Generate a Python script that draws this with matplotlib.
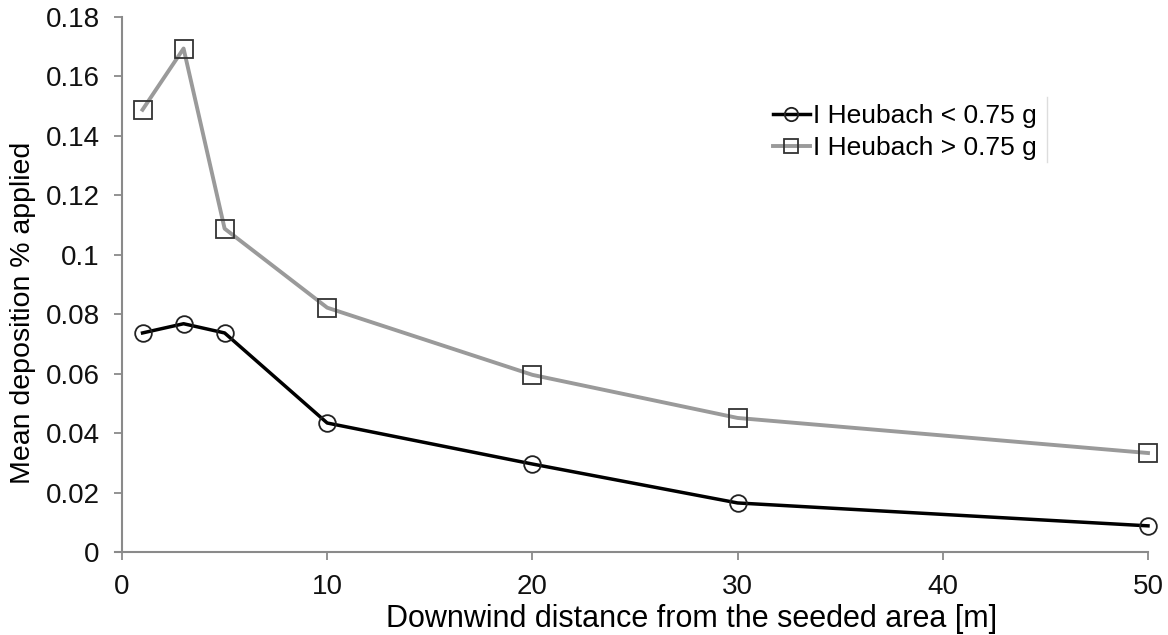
import numpy as np
import matplotlib.pyplot as plt

plt.rcParams['font.family'] = ['Liberation Sans', 'DejaVu Sans']

# distances downwind [m]
distance = [1, 3, 5, 10, 20, 30, 50]
# mean deposition, % of applied
dep_low = [0.0737, 0.0768, 0.0737, 0.0434, 0.0296, 0.0165, 0.0088]
dep_high = [0.1488, 0.1694, 0.1088, 0.0822, 0.0596, 0.0451, 0.0333]

labels = ["I Heubach < 0.75 g", "I Heubach > 0.75 g"]
xticks = [0, 10, 20, 30, 40, 50]
yticks = np.arange(0, 0.181, 0.02)

fig = plt.figure(figsize=(11.68, 6.35), dpi=100)
ax = fig.add_axes([115 / 1168, 1 - 552 / 635, 1033 / 1168, 535 / 635])

ax.plot(distance, dep_low, color='black', lw=2.5, marker='o', ms=12,
        mfc='none', mec='#222222', mew=1.3, label=labels[0], zorder=3,
        clip_on=False)
ax.plot(distance, dep_high, color='#9a9a9a', lw=2.8, marker='s', ms=12.5,
        mfc='none', mec='#333333', mew=1.3, label=labels[1], zorder=3,
        clip_on=False)

ax.set_xlim(-0.342, 50)
ax.set_ylim(0, 0.18)
ax.spines['left'].set_position(('data', 0))
ax.spines['top'].set_visible(False)
ax.spines['right'].set_visible(False)
for s in ['left', 'bottom']:
    ax.spines[s].set_color('#8a8a8a')
    ax.spines[s].set_linewidth(1.5)

ax.set_xticks(xticks)
ax.set_xticklabels([str(t) for t in xticks])
ax.set_yticks(yticks)
ax.set_yticklabels(['0'] + ['%g' % round(v, 2) for v in yticks[1:]])
ax.tick_params(axis='both', direction='out', length=6, width=1.3,
               color='#8a8a8a', labelsize=20, labelcolor='#111111')
ax.tick_params(axis='y', pad=10)
ax.tick_params(axis='x', pad=10)

ax.set_xlabel("Downwind distance from the seeded area [m]", fontsize=22)
ax.xaxis.set_label_coords((692 - 115) / 1033, -(627 - 552) / 535)
ax.xaxis.label.set_va('baseline')
ax.set_ylabel("Mean deposition % applied", fontsize=20.5)
ax.yaxis.set_label_coords((36 - 115) / 1033, (552 - 313) / 535)

leg = ax.legend(loc='upper left', bbox_to_anchor=(773 / 1168, 1 - 104 / 635),
                bbox_transform=fig.transFigure, frameon=False, fontsize=19,
                handlelength=1.4, handletextpad=0.1, labelspacing=0.3,
                markerscale=0.8, borderaxespad=0, borderpad=0)

# faint right edge of the legend box
fig.add_artist(plt.Line2D([1047 / 1168, 1047 / 1168], [1 - 97 / 635, 1 - 162 / 635],
                          transform=fig.transFigure, color='#dddddd', lw=1))

fig.savefig('out.png', dpi=100)
